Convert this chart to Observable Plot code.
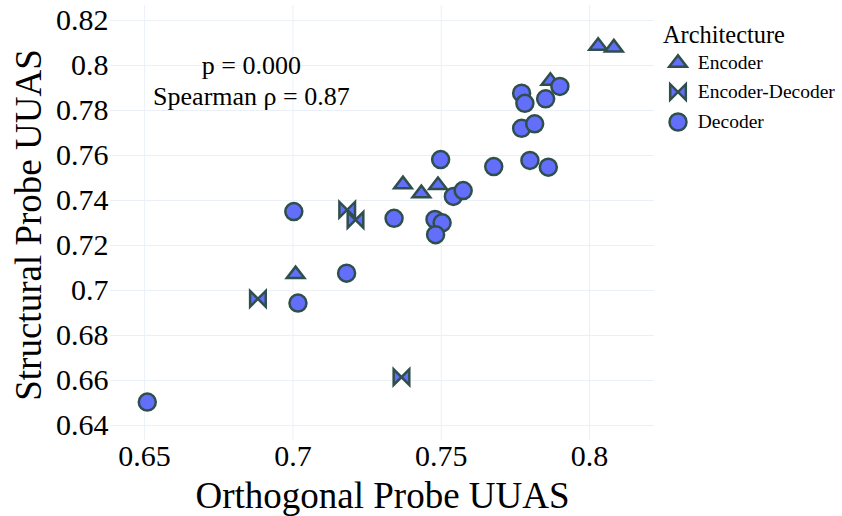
<!DOCTYPE html>
<html>
<head>
<meta charset="utf-8">
<script src="https://cdn.jsdelivr.net/npm/d3@7"></script>
<script src="https://cdn.jsdelivr.net/npm/@observablehq/plot@0.6"></script>
<style>
  html, body { margin: 0; padding: 0; background: #fff; }
  #wrap { position: relative; width: 842px; height: 516px; overflow: hidden;
          font-family: "Liberation Serif", "Times New Roman", serif; color: #000; }
  #wrap > svg { position: absolute; left: 0; top: 0; }
  #wrap svg text { font-family: "Liberation Serif", "Times New Roman", serif; }
  #legtitle { position: absolute; left: 663px; top: 23px; font-size: 24.4px; line-height: 24px; white-space: nowrap; }
  #legend { position: absolute; left: 668px; top: 48px; }
  #legend [class$="-swatch"] { height: 29.5px; padding: 0 !important; display: flex; align-items: center; }
  #legend svg { width: 20px; height: 20px; margin-right: 9.75px; overflow: visible; }
</style>
</head>
<body>
<div id="wrap"></div>
<script>
// ---- data ----
const architectures = ["Encoder", "Encoder-Decoder", "Decoder"];

const encoderOrthogonal = [0.7009, 0.7371, 0.7433, 0.7489, 0.7868, 0.8029, 0.8082];
const encoderStructural = [0.7072, 0.7472, 0.7432, 0.7468, 0.7932, 0.8087, 0.8080];

const encDecOrthogonal = [0.6882, 0.7183, 0.7211, 0.7366];
const encDecStructural = [0.6963, 0.7359, 0.7314, 0.6615];

const decoderOrthogonal = [0.6509, 0.7003, 0.7017, 0.7181, 0.7341, 0.7479, 0.7503, 0.7481, 0.7498, 0.7541,
                           0.7574, 0.7677, 0.7771, 0.7782, 0.7852, 0.7900, 0.7771, 0.7815, 0.7799, 0.7861];
const decoderStructural = [0.6504, 0.7351, 0.6944, 0.7077, 0.7321, 0.7316, 0.7301, 0.7248, 0.7582, 0.7418,
                           0.7444, 0.7551, 0.7877, 0.7832, 0.7852, 0.7907, 0.7721, 0.7741, 0.7578, 0.7548];

const xTicks = [0.65, 0.7, 0.75, 0.8];
const yTicks = [0.64, 0.66, 0.68, 0.7, 0.72, 0.74, 0.76, 0.78, 0.8, 0.82];
const annotationLines = ["p = 0.000", "Spearman ρ = 0.87"];
const xTitle = "Orthogonal Probe UUAS";
const yTitle = "Structural Probe UUAS";
const legendTitle = "Architecture";

// ---- table ----
const rows = [];
const series = [
  [architectures[0], encoderOrthogonal, encoderStructural],
  [architectures[1], encDecOrthogonal, encDecStructural],
  [architectures[2], decoderOrthogonal, decoderStructural]
];
for (const [arch, xs, ys] of series) {
  xs.forEach((x, i) => rows.push({architecture: arch, orthogonal: x, structural: ys[i]}));
}

// ---- plotly-like symbols ----
const symTriangle = {
  draw(ctx, size) {
    const r = Math.sqrt(size / Math.PI) * 0.9;
    const rt = r * 2 / Math.sqrt(3);
    ctx.moveTo(-rt, r / 2);
    ctx.lineTo(rt, r / 2);
    ctx.lineTo(0, -r);
    ctx.closePath();
  }
};
const symBowtie = {
  draw(ctx, size) {
    const b = Math.sqrt(size / Math.PI) * 0.92;
    ctx.moveTo(b, b);
    ctx.lineTo(b, -b);
    ctx.lineTo(-b, b);
    ctx.lineTo(-b, -b);
    ctx.closePath();
  }
};
const symCircle = {
  draw(ctx, size) {
    const r = Math.sqrt(size / Math.PI);
    ctx.moveTo(r, 0);
    ctx.arc(0, 0, r, 0, 2 * Math.PI);
    ctx.closePath();
  }
};
const symbolRange = [symTriangle, symBowtie, symCircle];

const fmt = d => String(+d.toFixed(2));
const FILL = "#636efa", STROKE = "#2f4f4f", GRID = "#EBF0F8";
const SERIF = '"Liberation Serif", "Times New Roman", serif';

const chart = Plot.plot({
  width: 842,
  height: 516,
  marginLeft: 110,
  marginRight: 188,
  marginTop: 5,
  marginBottom: 76,
  style: {
    fontFamily: SERIF,
    fontSize: "30px",
    color: "#000",
    background: "#fff",
    overflow: "visible"
  },
  x: {domain: [0.6385, 0.8219], ticks: xTicks, tickFormat: fmt, tickSize: 0, tickPadding: 4, label: null},
  y: {domain: [0.6333, 0.8267], ticks: yTicks, tickFormat: fmt, tickSize: 0, tickPadding: 2, label: null},
  symbol: {domain: architectures, range: symbolRange},
  marks: [
    Plot.ruleX(xTicks, {x: d => d, stroke: GRID, strokeWidth: 1}),
    Plot.ruleY(yTicks, {y: d => d, stroke: GRID, strokeWidth: 1}),
    Plot.dot(rows, {x: "orthogonal", y: "structural", symbol: "architecture", r: 8.5,
                    fill: FILL, stroke: STROKE, strokeWidth: 2.5}),
    Plot.text([annotationLines.join("\n")], {text: d => d, x: 0.686, y: 0.7938, fontSize: 26,
                    fontFamily: SERIF, lineHeight: 1.2, textAnchor: "middle", lineAnchor: "middle"}),
    Plot.text([xTitle], {text: d => d, frameAnchor: "bottom", dy: 56, fontSize: 37, fontFamily: SERIF,
                    textAnchor: "middle", lineAnchor: "middle"}),
    Plot.text([yTitle], {text: d => d, frameAnchor: "left", dx: -81, dy: 2, rotate: -90, fontSize: 37,
                    fontFamily: SERIF, textAnchor: "middle", lineAnchor: "middle"})
  ]
});
const wrap = document.getElementById("wrap");
wrap.appendChild(chart);

const t = document.createElement("div");
t.id = "legtitle";
t.textContent = legendTitle;
wrap.appendChild(t);

const leg = Plot.legend({
  symbol: {domain: architectures, range: symbolRange},
  fill: FILL, stroke: STROKE, strokeWidth: 2, r: 6.8,
  columns: 1, swatchSize: 20,
  style: {fontFamily: SERIF, fontSize: "19.5px", color: "#000", margin: 0}
});
const legBox = document.createElement("div");
legBox.id = "legend";
legBox.appendChild(leg);
wrap.appendChild(legBox);
</script>
</body>
</html>
